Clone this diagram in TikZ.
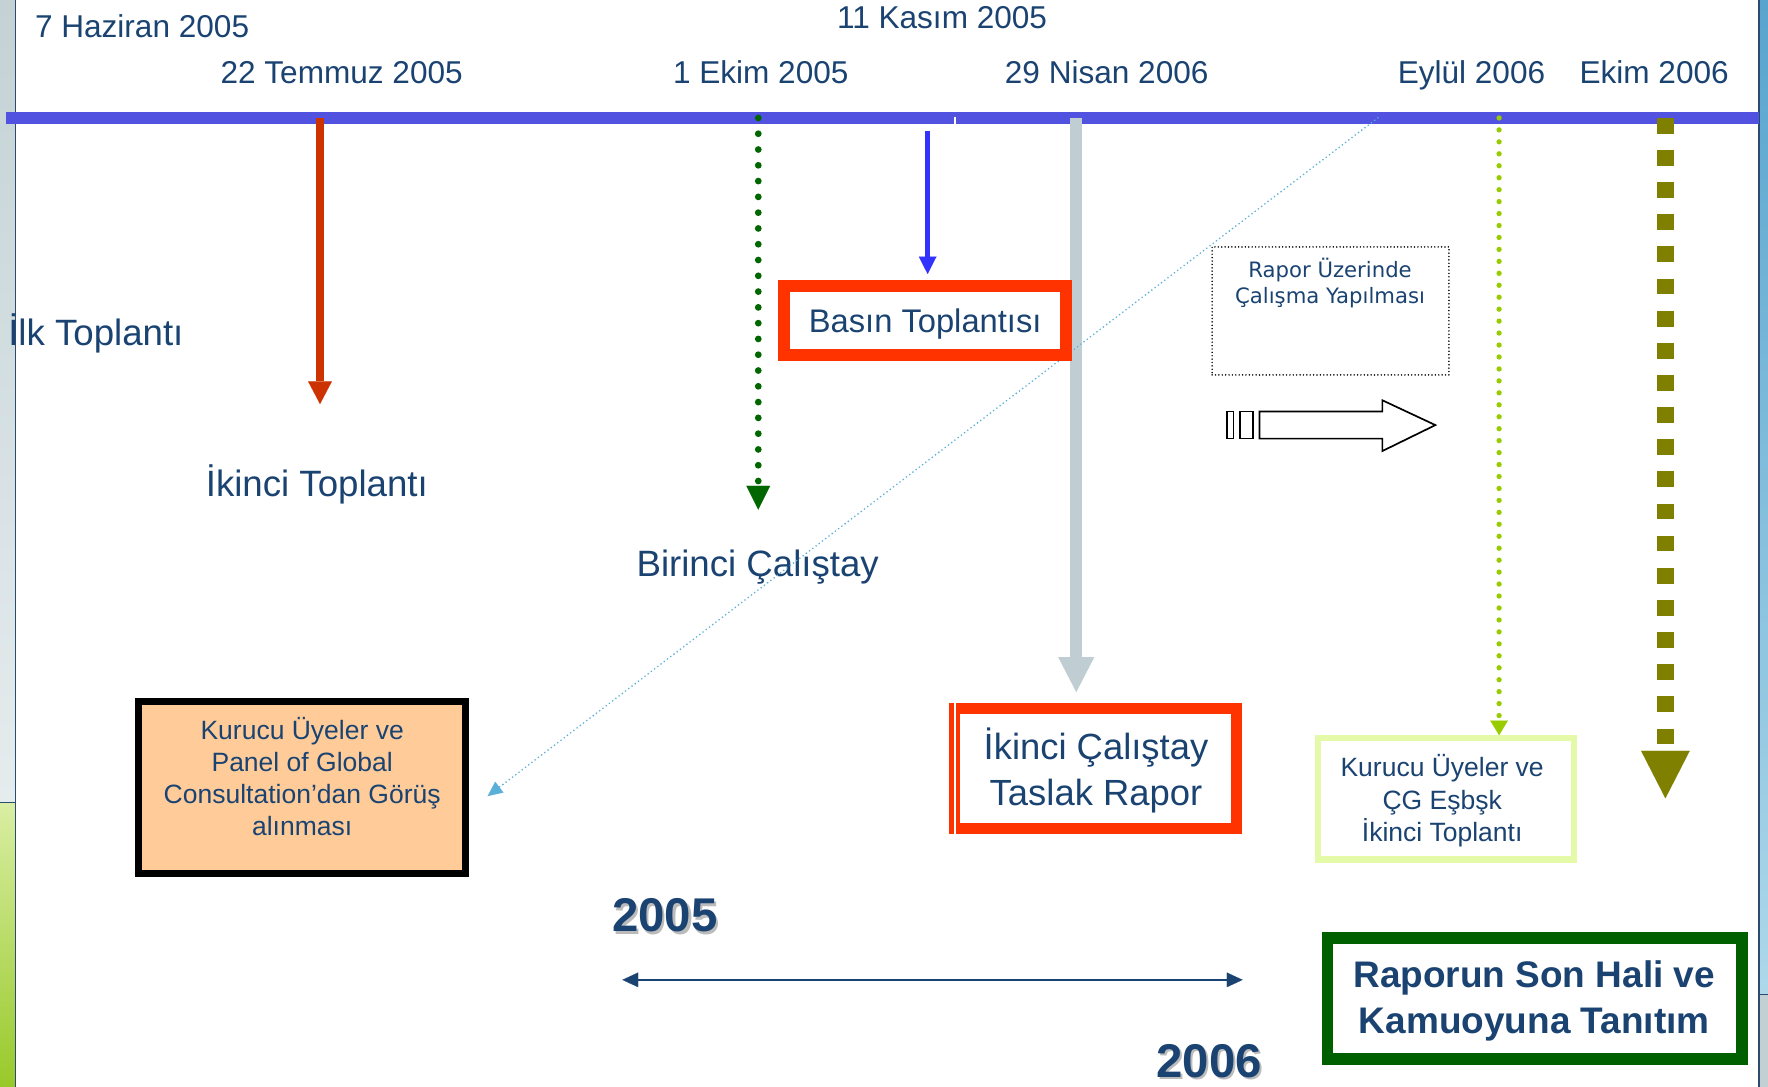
\documentclass[tikz,border=0pt]{standalone}
\usepackage{fontspec}
\setmainfont{Liberation Sans}
\newfontfamily\dejavu{DejaVu Sans}
\usetikzlibrary{arrows.meta}
\definecolor{txt}{HTML}{1A4372}
\definecolor{barblue}{HTML}{5252E0}
\definecolor{redarr}{HTML}{CC3300}
\definecolor{dgreen}{HTML}{006600}
\definecolor{bluearr}{HTML}{3333FF}
\definecolor{grayarr}{HTML}{C0CED3}
\definecolor{skyblue}{HTML}{5BB0D8}
\definecolor{limearr}{HTML}{99CC00}
\definecolor{olivearr}{HTML}{808000}
\definecolor{redbox}{HTML}{FF3300}
\definecolor{orangefill}{HTML}{FFCC99}
\definecolor{palegreen}{HTML}{E5FAA8}
\definecolor{boxgreen}{HTML}{006000}
\definecolor{edgeline}{HTML}{2B4C6E}
\definecolor{lgtop}{HTML}{C4D2D5}
\definecolor{lgbot}{HTML}{E5ECEE}
\definecolor{grtop}{HTML}{D9EEA3}
\definecolor{grbot}{HTML}{98C92A}
\definecolor{rbtop}{HTML}{58A4CE}
\definecolor{rbbot}{HTML}{AED8EA}
\definecolor{rgray}{HTML}{C2CFD3}
\definecolor{shadowgray}{HTML}{BBBBBB}
\begin{document}
\begin{tikzpicture}[x=1pt,y=-1pt,
  txtn/.style={text=txt,inner sep=0pt,anchor=base},
  datefont/.style={font=\fontsize{28}{28}\selectfont},
  bigfont/.style={font=\fontsize{32.5}{32.5}\selectfont},
  yearfont/.style={font=\bfseries\fontsize{42}{42}\selectfont},
  dots/.style={line cap=round,dash pattern=on 0pt off #1}
]
\useasboundingbox (0,0) rectangle (1568,964);
\fill[white] (0,0) rectangle (1568,964);
% side strips
\shade[top color=lgtop,bottom color=lgbot] (0,0) rectangle (13.5,712);
\shade[top color=grtop,bottom color=grbot] (0,712) rectangle (13.5,964);
\draw[edgeline,line width=1.2] (13.5,0) -- (13.5,964);
\draw[edgeline,line width=1] (0,712) -- (13.5,712);
\shade[top color=rbtop,bottom color=rbbot] (1560,0) rectangle (1568,882);
\fill[rgray] (1560,882) rectangle (1568,964);
\draw[edgeline,line width=1.2] (1560,0) -- (1560,964);
\draw[edgeline,line width=1] (1560,882) -- (1568,882);

% timeline bar
\coordinate (barL) at (5,104.7);
\coordinate (barR) at (1560,104.7);
\draw[barblue,line width=10.5] (barL) -- (barR);
\coordinate (tickT) at (847,103.5);
\coordinate (tickB) at (847,110);
\draw[white,line width=1] (tickT) -- (tickB);

% date labels
\node[txtn,datefont] (d1) at (126,33.5) {7 Haziran 2005};
\node[txtn,datefont] (d2) at (303,74) {22 Temmuz 2005};
\node[txtn,datefont] (d3) at (835.5,25) {11 Kasım 2005};
\node[txtn,datefont] (d4) at (674.7,74) {1 Ekim 2005};
\node[txtn,datefont] (d5) at (981.5,74) {29 Nisan 2006};
\node[txtn,datefont] (d6) at (1305,74) {Eylül 2006};
\node[txtn,datefont] (d7) at (1467,74) {Ekim 2006};

% event labels
\node[txtn,bigfont] (ilk) at (85,306) {İlk Toplantı};
\node[txtn,bigfont] (ikinci) at (281,440.5) {İkinci Toplantı};
\node[txtn,bigfont] (birinci) at (672,511.5) {Birinci Çalıştay};

% arrows from the timeline
\coordinate (redS) at (283.8,105);   \coordinate (redE) at (283.8,358.3);
\coordinate (grnS) at (672.5,104.6); \coordinate (grnE) at (672.5,452);
\coordinate (bluS) at (822.7,116);   \coordinate (bluE) at (822.7,243);
\coordinate (gryS) at (954.5,104.6); \coordinate (gryE) at (954.5,613.7);
\coordinate (limS) at (1329.5,104.6);\coordinate (limE) at (1329.5,652);
\coordinate (olvS) at (1477,104.6);  \coordinate (olvE) at (1477,708);
\coordinate (skyS) at (1222,104.5);  \coordinate (skyE) at (432.5,706);

\draw[redarr,line width=7,-{Triangle[length=20pt,width=21pt,line width=0.01pt]}] (redS) -- (redE);
\draw[dgreen,line width=6,dots=14pt,-{Triangle[length=21pt,width=21pt,line width=0.01pt]}] (grnS) -- (grnE);
\draw[bluearr,line width=5,-{Triangle[length=15.5pt,width=15.7pt,line width=0.01pt]}] (bluS) -- (bluE);
\draw[grayarr,line width=11,-{Triangle[length=31pt,width=32pt,line width=0.01pt]}] (gryS) -- (gryE);
\draw[limearr,line width=4.7,dots=10.6pt,-{Triangle[length=13pt,width=15.7pt,line width=0.01pt]}] (limS) -- (limE);
\draw[olivearr,line width=14.5,dash pattern=on 14pt off 14.5pt,-{Triangle[length=42pt,width=43pt,line width=0.01pt]}] (olvS) -- (olvE);
\draw[skyblue,line width=1.6,dots=3.6pt,-{Triangle[length=13pt,width=12pt,line width=0.01pt]}] (skyS) -- (skyE);

% Basin Toplantisi
\node[draw=redbox,line width=10.6,fill=white,minimum width=250.4pt,minimum height=61.4pt,inner sep=0pt,
      text depth=0pt,text=txt,font=\fontsize{29}{29}\selectfont] (basin) at (820.5,284) {Basın Toplantısı};

% Rapor Uzerinde box
\node[draw=black,line width=1.5,dots=3pt,minimum width=210pt,minimum height=113.5pt,inner sep=0pt] (calisma) at (1180,275.75) {};
\node[txtn,font=\dejavu\fontsize{18.8}{23.5}\selectfont] (calismaT) at (1179.6,246)
  {\begin{tabular}[t]{@{}c@{}}Rapor Üzerinde\\Çalışma Yapılması\end{tabular}};

% striped block arrow
\draw[black,line width=1.5,fill=white] (1088,365) rectangle (1094,389);
\draw[black,line width=1.5,fill=white] (1100,365) rectangle (1111,389);
\draw[black,line width=1.5,fill=white,line join=miter]
  (1117,365) -- (1226,365) -- (1226,355) -- (1273,377) -- (1226,400) -- (1226,389) -- (1117,389) -- cycle;

% orange box
\node[draw=black,line width=6,fill=orangefill,minimum width=290pt,minimum height=153pt,inner sep=0pt] (panel) at (268,698.5) {};
\node[txtn,font=\fontsize{23.5}{28.5}\selectfont] (panelT) at (268,655.5)
  {\begin{tabular}[t]{@{}c@{}}Kurucu Üyeler ve\\Panel of Global\\Consultation’dan Görüş\\alınması\end{tabular}};

% Ikinci Calistay box
\node[draw=redbox,line width=10,fill=white,minimum width=250pt,minimum height=106pt,inner sep=0pt] (taslak) at (971.5,681.5) {};
\coordinate (strT) at (847,623.5); \coordinate (strB) at (847,739.6);
\draw[white,line width=1.8] (strT) -- (strB);
\node[txtn,font=\fontsize{32.3}{40}\selectfont] (taslakT) at (972,674)
  {\begin{tabular}[t]{@{}c@{}}İkinci Çalıştay\\Taslak Rapor\end{tabular}};

% Kurucu CG box
\node[draw=palegreen,line width=5.5,fill=white,minimum width=227pt,minimum height=107.5pt,inner sep=0pt] (cg) at (1282.25,708.5) {};
\node[txtn,font=\fontsize{23.5}{28.5}\selectfont] (cgT) at (1279,689)
  {\begin{tabular}[t]{@{}c@{}}Kurucu Üyeler ve\\ÇG Eşbşk\\İkinci Toplantı\end{tabular}};

% Raporun Son Hali box
\node[draw=boxgreen,line width=10.5,fill=white,minimum width=367.5pt,minimum height=107pt,inner sep=0pt] (son) at (1361,885.75) {};
\node[txtn,font=\bfseries\fontsize{32.8}{41}\selectfont] (sonT) at (1360.7,876)
  {\begin{tabular}[t]{@{}c@{}}Raporun Son Hali ve\\Kamuoyuna Tanıtım\end{tabular}};

% years
\node[txtn,yearfont,text=shadowgray] (y5s) at (591.8,828.8) {2005};
\node[txtn,yearfont] (y5) at (589.5,826.5) {2005};
\node[txtn,yearfont,text=shadowgray] (y6s) at (1074.3,957.8) {2006};
\node[txtn,yearfont] (y6) at (1072.5,956) {2006};

\coordinate (spanL) at (552,869); \coordinate (spanR) at (1102,869);
\draw[txt,line width=2.2,{Triangle[length=14pt,width=13pt,line width=0.01pt]}-{Triangle[length=14pt,width=13pt,line width=0.01pt]}] (spanL) -- (spanR);
\end{tikzpicture}
\end{document}
